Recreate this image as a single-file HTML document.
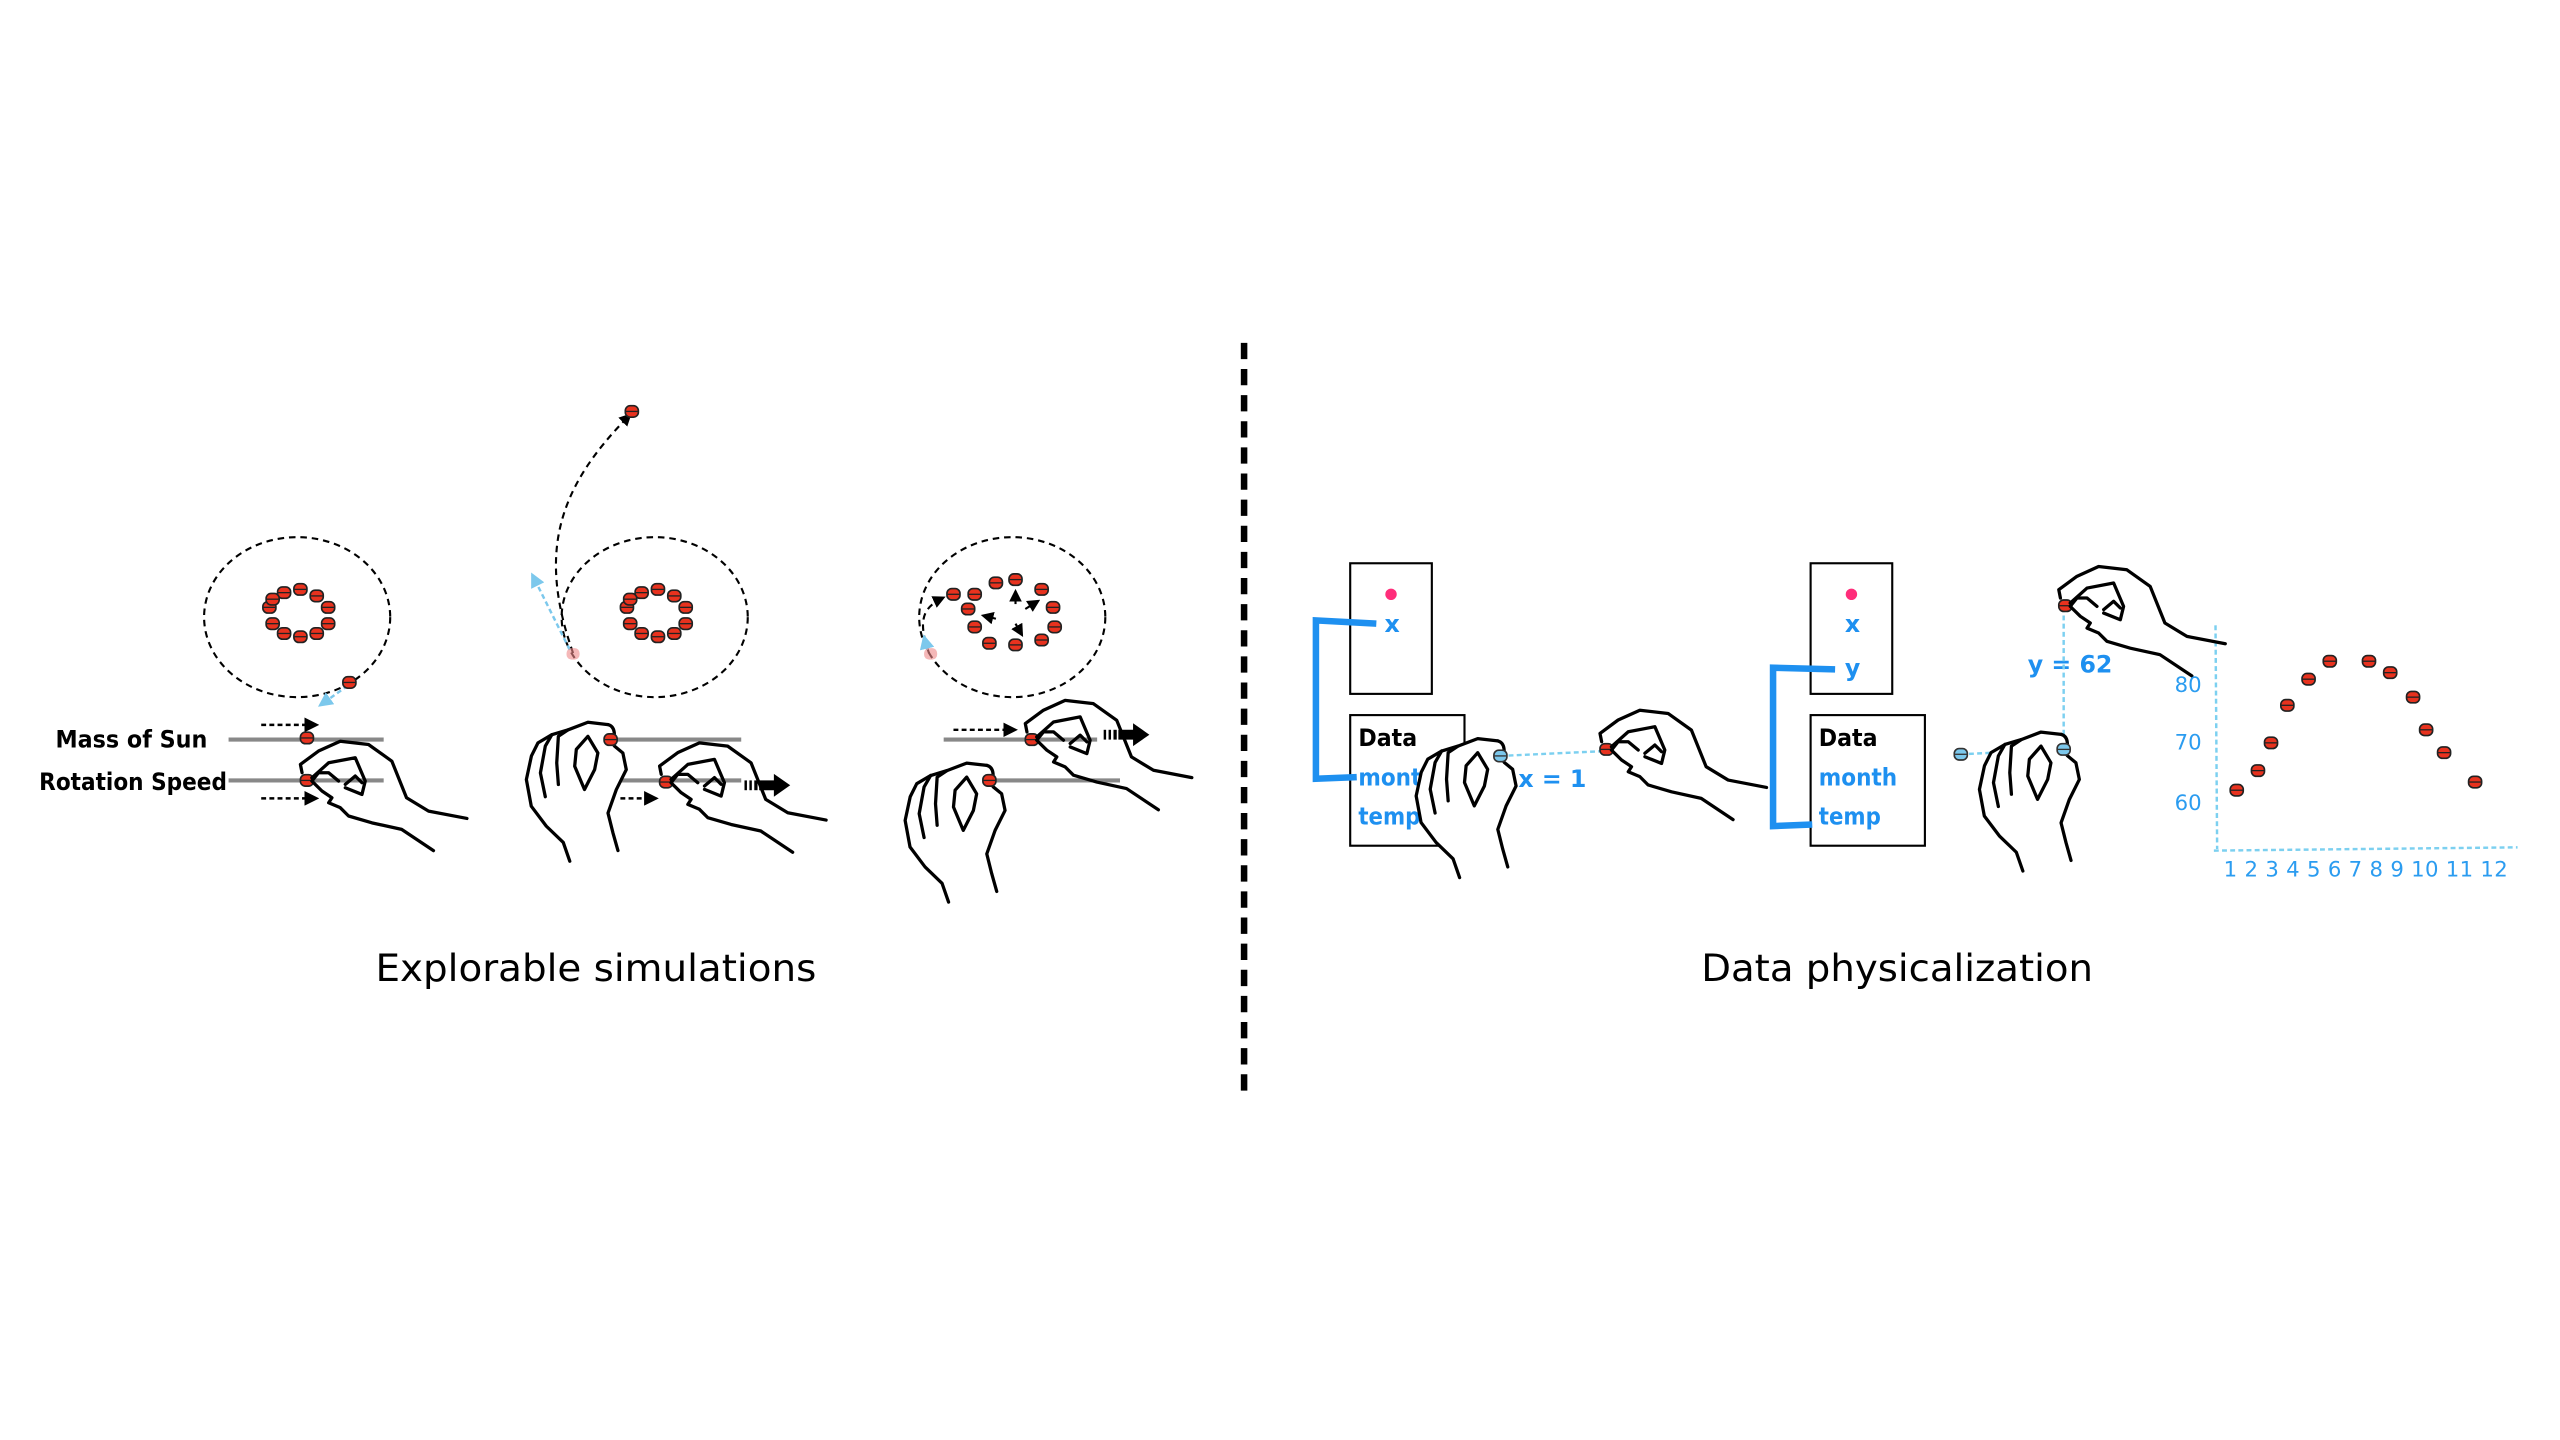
<!DOCTYPE html>
<html><head><meta charset="utf-8"><style>html,body{margin:0;padding:0;background:#fff}svg{display:block}</style></head>
<body>
<svg width="2560" height="1440" viewBox="0 0 1568 882" preserveAspectRatio="none" xmlns="http://www.w3.org/2000/svg" font-family="'DejaVu Sans','Liberation Sans',sans-serif">
<defs>
<g id="dot"><rect x="-4" y="-3.5" width="8" height="7" rx="3" fill="#e8321e" stroke="#222" stroke-width="1"/><line x1="-4" y1="0" x2="4" y2="0" stroke="#222" stroke-width="0.8"/></g>
<g id="bdot"><rect x="-4" y="-3.5" width="8" height="7" rx="3" fill="#7cc8ec" stroke="#333" stroke-width="1"/><line x1="-4" y1="0" x2="4" y2="0" stroke="#333" stroke-width="0.8"/></g>
<g id="pinch" fill="none" stroke="#000" stroke-width="2" stroke-linejoin="round" stroke-linecap="round">
<path d="M-3,-4.7 L-4,-9.8 L7.1,-18 L20.4,-24 L37.7,-22 L52,-11.8 L61,10.6 L74.5,18.8 L98,23.3"/>
<path d="M77.5,43 L58,30 L39.8,26 L25.5,21.8 L20.4,16.7 L13.3,13.7 L15.3,10.6 L9.2,6.5 L3,0.4 L7.1,-4.7 L13.3,-4.7 L19.4,0.4"/>
<path d="M3,-1.6 L13.3,-10.8 L29.6,-13.9 L35.7,0.4 L33.7,8.6 L23.5,4.5"/>
<path d="M23.5,2.4 L29.6,-2.7 L33.7,1.4"/>
</g>
<g id="vhand" stroke="#000" stroke-width="2" stroke-linejoin="round" stroke-linecap="round">
<path fill="#fff" stroke="none" d="M-1.6,-9.2 L-13.9,-10.6 L-26,-6 L-36,-3 L-44.5,2 L-48.5,10 L-51.6,24.5 L-48.6,40.8 L-39.4,53 L-29,63 L-25,74.5 L4.5,68 L1.4,57 L-1.6,45 L3.5,30.6 L9.6,18.4 L7.5,8.2 L2.4,4 L1,2 C3,-2 3,-8 -1.6,-9.2 Z"/>
<path fill="none" d="M-1.6,-9.2 L-13.9,-10.6 L-26,-6 L-36,-3 L-44.5,2 L-48.5,10 L-51.6,24.5 L-48.6,40.8 L-39.4,53 L-29,63 L-25,74.5"/>
<path fill="none" d="M-1.6,-9.2 C3,-8 3,-2 1,2 L2.4,4 L7.5,8.2 L9.6,18.4 L3.5,30.6 L-1.6,45 L1.4,57 L4.5,68"/>
<path fill="none" d="M-26,-6 L-32,-2 L-33,14.3 L-32,27.5"/>
<path fill="none" d="M-36,-3 L-40,4 L-43,20.4 L-40,35"/>
<path fill="none" d="M-13.9,-2 L-21,6 L-22,16.3 L-16,30.6 L-9.8,18.4 L-7.8,8.2 Z"/>
</g>
<marker id="ah" markerWidth="6" markerHeight="6" refX="5" refY="3" orient="auto"><path d="M0,0 L6,3 L0,6 Z" fill="#000"/></marker>
<marker id="bh" markerWidth="6" markerHeight="6" refX="5" refY="3" orient="auto"><path d="M0,0 L6,3 L0,6 Z" fill="#7cc8ec"/></marker>
</defs>

<line x1="762" y1="210" x2="762" y2="674" stroke="#000" stroke-width="4" stroke-dasharray="10,6"/>

<text x="365" y="601" font-size="23" text-anchor="middle" textLength="270" lengthAdjust="spacingAndGlyphs">Explorable simulations</text>
<text x="1162" y="601" font-size="23" text-anchor="middle" textLength="240" lengthAdjust="spacingAndGlyphs">Data physicalization</text>

<g fill="none" stroke="#000" stroke-width="1.3" stroke-dasharray="4,3">
<ellipse cx="182" cy="378" rx="57" ry="49"/>
<ellipse cx="401" cy="378" rx="57" ry="49"/>
<ellipse cx="620" cy="378" rx="57" ry="49"/>
<path d="M351,400 C330,340 340,300 386,254" marker-end="url(#ah)"/>
<path d="M569,400 C562,380 565,372 578,366" marker-end="url(#ah)"/>
</g>
<line x1="213" y1="420" x2="196" y2="432" stroke="#7cc8ec" stroke-width="1.5" stroke-dasharray="3,2" marker-end="url(#bh)"/>
<line x1="349" y1="398" x2="326" y2="352" stroke="#7cc8ec" stroke-width="1.5" stroke-dasharray="3,2" marker-end="url(#bh)"/>
<line x1="568" y1="398" x2="566" y2="390" stroke="#7cc8ec" stroke-width="1.5" marker-end="url(#bh)"/>

<g>
<use href="#dot" x="174" y="363"/><use href="#dot" x="184" y="361"/><use href="#dot" x="194" y="365"/><use href="#dot" x="201" y="372"/><use href="#dot" x="201" y="382"/><use href="#dot" x="194" y="388"/><use href="#dot" x="184" y="390"/><use href="#dot" x="174" y="388"/><use href="#dot" x="167" y="382"/><use href="#dot" x="165" y="372"/><use href="#dot" x="167" y="367"/>
<use href="#dot" x="214" y="418"/><use href="#dot" x="387" y="252"/>
<use href="#dot" x="393" y="363"/><use href="#dot" x="403" y="361"/><use href="#dot" x="413" y="365"/><use href="#dot" x="420" y="372"/><use href="#dot" x="420" y="382"/><use href="#dot" x="413" y="388"/><use href="#dot" x="403" y="390"/><use href="#dot" x="393" y="388"/><use href="#dot" x="386" y="382"/><use href="#dot" x="384" y="372"/><use href="#dot" x="386" y="367"/>
<use href="#dot" x="584" y="364"/><use href="#dot" x="597" y="364"/><use href="#dot" x="610" y="357"/><use href="#dot" x="622" y="355"/><use href="#dot" x="638" y="361"/><use href="#dot" x="645" y="372"/><use href="#dot" x="646" y="384"/><use href="#dot" x="638" y="392"/><use href="#dot" x="622" y="395"/><use href="#dot" x="606" y="394"/><use href="#dot" x="597" y="384"/><use href="#dot" x="593" y="373"/>
<rect x="347" y="397" width="8" height="7" rx="3" fill="#e88" opacity="0.6"/>
<rect x="566" y="397" width="8" height="7" rx="3" fill="#e88" opacity="0.6"/>
</g>
<g stroke="#000" stroke-width="1.3" fill="none">
<line x1="622" y1="370" x2="622" y2="362" marker-end="url(#ah)"/>
<line x1="610" y1="379" x2="602" y2="377" marker-end="url(#ah)"/>
<line x1="628" y1="373" x2="636" y2="368" marker-end="url(#ah)"/>
<line x1="622" y1="382" x2="626" y2="389" marker-end="url(#ah)"/>
</g>

<g stroke="#888" stroke-width="2.5">
<line x1="140" y1="453" x2="235" y2="453"/>
<line x1="140" y1="478" x2="235" y2="478"/>
<line x1="360" y1="453" x2="454" y2="453"/>
<line x1="372" y1="478" x2="454" y2="478"/>
<line x1="578" y1="453" x2="672" y2="453"/>
<line x1="590" y1="478" x2="686" y2="478"/>
</g>
<text x="34" y="458" font-size="14.5" font-weight="bold" textLength="93" lengthAdjust="spacingAndGlyphs">Mass of Sun</text>
<text x="24" y="484" font-size="14.5" font-weight="bold" textLength="115" lengthAdjust="spacingAndGlyphs">Rotation Speed</text>
<g stroke="#000" stroke-width="1.5" stroke-dasharray="3,2" fill="none">
<line x1="160" y1="444" x2="194" y2="444" marker-end="url(#ah)"/>
<line x1="160" y1="489" x2="194" y2="489" marker-end="url(#ah)"/>
<line x1="380" y1="489" x2="402" y2="489" marker-end="url(#ah)"/>
<line x1="584" y1="447" x2="622" y2="447" marker-end="url(#ah)"/>
</g>
<g fill="#000">
<rect x="456" y="478" width="1.5" height="6"/><rect x="459" y="478" width="1.5" height="6"/><rect x="462" y="478" width="2" height="6"/><path d="M465,478 L474,478 L474,474 L484,481 L474,488 L474,484 L465,484 Z"/>
<rect x="676" y="447" width="1.5" height="6"/><rect x="679" y="447" width="1.5" height="6"/><rect x="682" y="447" width="2" height="6"/><path d="M685,447 L694,447 L694,443 L704,450 L694,457 L694,453 L685,453 Z"/>
</g>
<use href="#dot" x="188" y="452"/><use href="#dot" x="188" y="478"/>
<use href="#pinch" x="188" y="478"/>
<use href="#vhand" x="374" y="453"/><use href="#dot" x="374" y="453"/>
<use href="#dot" x="408" y="479"/><use href="#pinch" x="408" y="479"/>
<use href="#dot" x="632" y="453"/><use href="#pinch" x="632" y="453"/>
<use href="#vhand" x="606" y="478"/><use href="#dot" x="606" y="478"/>

<g fill="#fff" stroke="#000" stroke-width="1.3">
<rect x="827" y="345" width="50" height="80"/>
<rect x="827" y="438" width="70" height="80"/>
<rect x="1109" y="345" width="50" height="80"/>
<rect x="1109" y="438" width="70" height="80"/>
</g>
<circle cx="852" cy="364" r="3.5" fill="#ff2d7a"/>
<circle cx="1134" cy="364" r="3.5" fill="#ff2d7a"/>
<g fill="none" stroke="#1e90f0" stroke-width="4">
<path d="M843,382 L806,380 L806,477 L831,476"/>
<path d="M1124,410 L1086,409 L1086,506 L1110,505"/>
</g>
<g font-size="14.5" font-weight="bold" fill="#1e90f0">
<text x="848" y="387">x</text>
<text x="1130" y="387">x</text>
<text x="1130" y="414">y</text>
<text x="832" y="481" textLength="48" lengthAdjust="spacingAndGlyphs">month</text>
<text x="832" y="505" textLength="38" lengthAdjust="spacingAndGlyphs">temp</text>
<text x="1114" y="481" textLength="48" lengthAdjust="spacingAndGlyphs">month</text>
<text x="1114" y="505" textLength="38" lengthAdjust="spacingAndGlyphs">temp</text>
<text x="930" y="482">x = 1</text>
<text x="1242" y="412">y = 62</text>
</g>
<g font-size="14.5" font-weight="bold" fill="#000">
<text x="832" y="457" textLength="36" lengthAdjust="spacingAndGlyphs">Data</text>
<text x="1114" y="457" textLength="36" lengthAdjust="spacingAndGlyphs">Data</text>
</g>
<g stroke="#7cd0f0" stroke-width="1.5" stroke-dasharray="3,2" fill="none">
<line x1="919" y1="463" x2="984" y2="460"/>
<line x1="1201" y1="462" x2="1264" y2="459"/>
<line x1="1264" y1="372" x2="1264" y2="459"/>
<line x1="1357" y1="383" x2="1358" y2="520"/>
<line x1="1356" y1="521" x2="1542" y2="519"/>
</g>
<use href="#vhand" x="919" y="463"/><use href="#bdot" x="919" y="463"/>
<use href="#dot" x="984" y="459"/><use href="#pinch" x="984" y="459"/>
<use href="#bdot" x="1201" y="462"/>
<use href="#vhand" x="1264" y="459"/><use href="#bdot" x="1264" y="459"/>
<use href="#dot" x="1265" y="371"/><use href="#pinch" x="1265" y="371"/>

<g font-size="13" fill="#2b9cf0">
<text x="1332" y="424">80</text>
<text x="1332" y="459">70</text>
<text x="1332" y="496">60</text>
<text x="1362" y="537" textLength="174" lengthAdjust="spacing">1 2 3 4 5 6 7 8 9 10 11 12</text>
</g>
<use href="#dot" x="1370" y="484"/><use href="#dot" x="1383" y="472"/><use href="#dot" x="1391" y="455"/><use href="#dot" x="1401" y="432"/><use href="#dot" x="1414" y="416"/><use href="#dot" x="1427" y="405"/><use href="#dot" x="1451" y="405"/><use href="#dot" x="1464" y="412"/><use href="#dot" x="1478" y="427"/><use href="#dot" x="1486" y="447"/><use href="#dot" x="1497" y="461"/><use href="#dot" x="1516" y="479"/>
</svg>
</body></html>
